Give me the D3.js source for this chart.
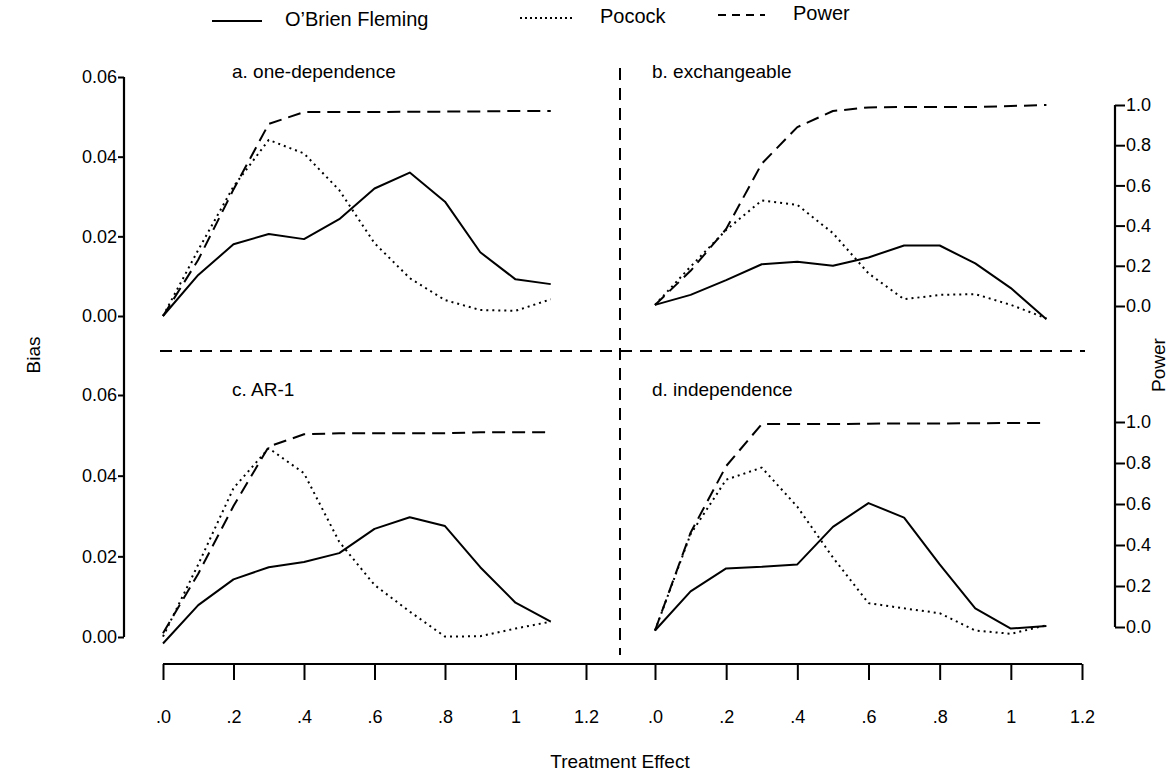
<!DOCTYPE html>
<html>
<head>
<meta charset="utf-8">
<script src="https://cdn.jsdelivr.net/npm/d3@7"></script>
<style>
  body { margin: 0; background: #fff; }
  svg { font-family: "Liberation Sans", Arial, Helvetica, sans-serif; }
  .tick text { font-size: 18px; fill: #000; }
  .tick line { stroke: #000; stroke-width: 2; }
</style>
</head>
<body>
<svg id="chart" width="1176" height="780"></svg>
<script>
// treatment effect grid (x values of every series)
const effect = [0, 0.1, 0.2, 0.3, 0.4, 0.5, 0.6, 0.7, 0.8, 0.9, 1.0, 1.1];

const panelTitles = ["a. one-dependence", "b. exchangeable", "c. AR-1", "d. independence"];
const legendLabels = ["O\u2019Brien Fleming", "Pocock", "Power"];

// bias, O'Brien Fleming
const obfA = [0.000, 0.0103, 0.018, 0.0206, 0.0193, 0.0243, 0.032, 0.036, 0.0287, 0.016, 0.0092, 0.008];
const obfB = [0.0028, 0.0053, 0.009, 0.013, 0.0136, 0.0126, 0.0147, 0.0177, 0.0177, 0.0132, 0.007, -0.0008];
const obfC = [-0.0016, 0.0079, 0.0143, 0.0173, 0.0186, 0.0208, 0.0268, 0.0297, 0.0275, 0.0173, 0.0085, 0.0038];
const obfD = [0.0016, 0.0113, 0.017, 0.0174, 0.018, 0.0273, 0.0332, 0.0296, 0.018, 0.0071, 0.0021, 0.0027];

// bias, Pocock
const pocA = [0.000, 0.0166, 0.0325, 0.0442, 0.0408, 0.0316, 0.0183, 0.0095, 0.004, 0.0015, 0.0013, 0.0042];
const pocB = [0.0028, 0.0124, 0.0216, 0.029, 0.0279, 0.0208, 0.0107, 0.0042, 0.0053, 0.0055, 0.0028, -0.0006];
const pocC = [0.0001, 0.018, 0.0369, 0.0468, 0.0406, 0.0236, 0.0129, 0.0063, 0.0001, 0.0002, 0.0021, 0.0038];
const pocD = [0.0016, 0.0255, 0.039, 0.042, 0.0323, 0.0197, 0.0084, 0.0071, 0.0059, 0.0016, 0.0008, 0.0029];

// power
const powA = [-0.05, 0.23, 0.58, 0.906, 0.965, 0.965, 0.965, 0.967, 0.967, 0.968, 0.97, 0.97];
const powB = [0.005, 0.175, 0.383, 0.708, 0.89, 0.97, 0.988, 0.99, 0.99, 0.99, 0.995, 1.0];
const powC = [-0.03, 0.26, 0.59, 0.88, 0.94, 0.945, 0.945, 0.945, 0.945, 0.95, 0.95, 0.95];
const powD = [-0.017, 0.46, 0.785, 0.99, 0.99, 0.99, 0.992, 0.993, 0.993, 0.994, 0.995, 0.995];

// axis ticks
const xTicks = [0, 0.2, 0.4, 0.6, 0.8, 1.0, 1.2];
const xTickLabels = [".0", ".2", ".4", ".6", ".8", "1", "1.2"];
const biasTicks = [0, 0.02, 0.04, 0.06];
const powerTicks = [0, 0.2, 0.4, 0.6, 0.8, 1.0];

const svg = d3.select("#chart");

const xLeft = d3.scaleLinear().domain([0, 1.2]).range([163, 586]);
const xRight = d3.scaleLinear().domain([0, 1.2]).range([655, 1082]);
const biasTop = d3.scaleLinear().domain([0, 0.06]).range([316, 77]);
const biasBottom = d3.scaleLinear().domain([0, 0.06]).range([637, 395]);
const powerTop = d3.scaleLinear().domain([0, 1]).range([306, 105]);
const powerBottom = d3.scaleLinear().domain([0, 1]).range([627, 422]);

const panels = [
  {title: panelTitles[0], x: xLeft, bias: biasTop, power: powerTop, obf: obfA, poc: pocA, pow: powA, tx: 232},
  {title: panelTitles[1], x: xRight, bias: biasTop, power: powerTop, obf: obfB, poc: pocB, pow: powB, tx: 652},
  {title: panelTitles[2], x: xLeft, bias: biasBottom, power: powerBottom, obf: obfC, poc: pocC, pow: powC, tx: 232},
  {title: panelTitles[3], x: xRight, bias: biasBottom, power: powerBottom, obf: obfD, poc: pocD, pow: powD, tx: 652}
];

const styles = {
  obf: {dash: null, width: 2},
  poc: {dash: "2,4", width: 2},
  pow: {dash: "13,7", width: 2}
};

function addSeries(p, key, yScale) {
  const line = d3.line()
    .x((d, i) => p.x(effect[i]))
    .y(d => yScale(d));
  svg.append("path")
    .datum(p[key])
    .attr("d", line)
    .attr("fill", "none")
    .attr("stroke", "#000")
    .attr("stroke-width", styles[key].width)
    .attr("stroke-dasharray", styles[key].dash)
    .attr("stroke-linejoin", "round");
}

for (const p of panels) {
  addSeries(p, "obf", p.bias);
  addSeries(p, "poc", p.bias);
  addSeries(p, "pow", p.power);
  svg.append("text")
    .attr("x", p.tx)
    .attr("y", p.bias(0.06) - 4)
    .attr("dominant-baseline", "middle")
    .style("font-size", "19px")
    .text(p.title);
}

// panel dividers
svg.append("line")
  .attr("x1", 620).attr("x2", 620)
  .attr("y1", 68).attr("y2", 655)
  .attr("stroke", "#000").attr("stroke-width", 2)
  .attr("stroke-dasharray", "12,8");
svg.append("line")
  .attr("x1", 160).attr("x2", 1085)
  .attr("y1", 351).attr("y2", 351)
  .attr("stroke", "#000").attr("stroke-width", 2)
  .attr("stroke-dasharray", "12,8");

// left bias axes
const biasX = 124;
for (const s of [biasTop, biasBottom]) {
  svg.append("g")
    .attr("transform", `translate(${biasX},0)`)
    .call(d3.axisLeft(s).tickValues(biasTicks).tickFormat(d3.format(".2f")).tickSize(6).tickPadding(1))
    .call(g => g.select(".domain").remove());
}
svg.append("line")
  .attr("x1", biasX).attr("x2", biasX)
  .attr("y1", biasTop(0.06)).attr("y2", biasBottom(0))
  .attr("stroke", "#000").attr("stroke-width", 2.2);

// right power axes
const powerX = 1115;
for (const s of [powerTop, powerBottom]) {
  svg.append("g")
    .attr("transform", `translate(${powerX},0)`)
    .call(d3.axisRight(s).tickValues(powerTicks).tickFormat(d3.format(".1f")).tickSize(10).tickPadding(1))
    .call(g => g.select(".domain").remove());
}
svg.append("line")
  .attr("x1", powerX).attr("x2", powerX)
  .attr("y1", powerTop(1)).attr("y2", powerBottom(0))
  .attr("stroke", "#000").attr("stroke-width", 2.2);

// shared treatment effect axis
const axisY = 664;
for (const s of [xLeft, xRight]) {
  svg.append("g")
    .attr("transform", `translate(0,${axisY})`)
    .call(d3.axisBottom(s).tickValues(xTicks).tickFormat((d, i) => xTickLabels[i]).tickSize(16).tickPadding(30))
    .call(g => g.select(".domain").remove());
}
svg.append("line")
  .attr("x1", xLeft(0)).attr("x2", xRight(1.2))
  .attr("y1", axisY).attr("y2", axisY)
  .attr("stroke", "#000").attr("stroke-width", 2.2);

// axis titles
svg.append("text")
  .attr("transform", "translate(40,355) rotate(-90)")
  .attr("text-anchor", "middle")
  .style("font-size", "19px")
  .text("Bias");
svg.append("text")
  .attr("transform", "translate(1160,365) rotate(-90)")
  .attr("text-anchor", "middle")
  .attr("dominant-baseline", "middle")
  .style("font-size", "19px")
  .text("Power");
svg.append("text")
  .attr("x", 620).attr("y", 768)
  .attr("text-anchor", "middle")
  .style("font-size", "19px")
  .text("Treatment Effect");

// legend
const legend = [
  {label: legendLabels[0], dash: null, x1: 212, x2: 262, tx: 285, y: 21},
  {label: legendLabels[1], dash: "2,3", x1: 520, x2: 575, tx: 600, y: 18},
  {label: legendLabels[2], dash: "8,6", x1: 718, x2: 765, tx: 793, y: 15}
];
for (const l of legend) {
  svg.append("line")
    .attr("x1", l.x1).attr("x2", l.x2)
    .attr("y1", l.y).attr("y2", l.y)
    .attr("stroke", "#000").attr("stroke-width", 2)
    .attr("stroke-dasharray", l.dash);
  svg.append("text")
    .attr("x", l.tx).attr("y", l.y)
    .attr("dominant-baseline", "middle")
    .style("font-size", "20px")
    .text(l.label);
}
</script>
</body>
</html>
